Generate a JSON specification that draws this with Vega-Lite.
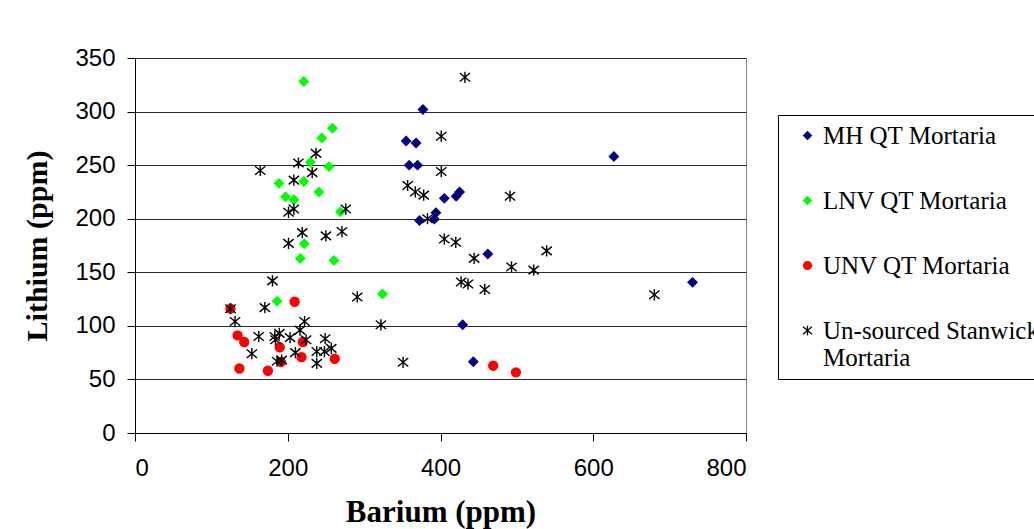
{
  "$schema": "https://vega.github.io/schema/vega-lite/v6.json",
  "autosize": "none",
  "width": 611,
  "height": 375,
  "padding": {"left": 135, "top": 58, "right": 288, "bottom": 96},
  "background": "white",
  "config": {
    "view": {"stroke": "#808080", "strokeWidth": 1},
    "font": "Liberation Sans"
  },
  "data": {
    "values": [
      {"series": "MH QT Mortaria", "ba": 377, "li": 302},
      {"series": "MH QT Mortaria", "ba": 355, "li": 272.5},
      {"series": "MH QT Mortaria", "ba": 368, "li": 270.6},
      {"series": "MH QT Mortaria", "ba": 359, "li": 250},
      {"series": "MH QT Mortaria", "ba": 370, "li": 250},
      {"series": "MH QT Mortaria", "ba": 405, "li": 219},
      {"series": "MH QT Mortaria", "ba": 420.5, "li": 221},
      {"series": "MH QT Mortaria", "ba": 425, "li": 225},
      {"series": "MH QT Mortaria", "ba": 394, "li": 205.6},
      {"series": "MH QT Mortaria", "ba": 392, "li": 199.6},
      {"series": "MH QT Mortaria", "ba": 372.5, "li": 198.4},
      {"series": "MH QT Mortaria", "ba": 462, "li": 167},
      {"series": "MH QT Mortaria", "ba": 627, "li": 258},
      {"series": "MH QT Mortaria", "ba": 730, "li": 140.6},
      {"series": "MH QT Mortaria", "ba": 429, "li": 101},
      {"series": "MH QT Mortaria", "ba": 443, "li": 66.5},
      {"series": "LNV QT Mortaria", "ba": 221, "li": 328},
      {"series": "LNV QT Mortaria", "ba": 258.6, "li": 284.5},
      {"series": "LNV QT Mortaria", "ba": 244.7, "li": 275.3},
      {"series": "LNV QT Mortaria", "ba": 229.6, "li": 252.6},
      {"series": "LNV QT Mortaria", "ba": 254, "li": 248.6},
      {"series": "LNV QT Mortaria", "ba": 188.5, "li": 233},
      {"series": "LNV QT Mortaria", "ba": 221, "li": 234.8},
      {"series": "LNV QT Mortaria", "ba": 240.8, "li": 225},
      {"series": "LNV QT Mortaria", "ba": 197, "li": 220.4},
      {"series": "LNV QT Mortaria", "ba": 208, "li": 217.7},
      {"series": "LNV QT Mortaria", "ba": 269, "li": 206.5},
      {"series": "LNV QT Mortaria", "ba": 221.6, "li": 176.7},
      {"series": "LNV QT Mortaria", "ba": 216.4, "li": 162.8},
      {"series": "LNV QT Mortaria", "ba": 260.5, "li": 161},
      {"series": "LNV QT Mortaria", "ba": 186, "li": 123},
      {"series": "LNV QT Mortaria", "ba": 324, "li": 129.7},
      {"series": "UNV QT Mortaria", "ba": 125, "li": 116},
      {"series": "UNV QT Mortaria", "ba": 209, "li": 122.5},
      {"series": "UNV QT Mortaria", "ba": 134.3, "li": 91.1},
      {"series": "UNV QT Mortaria", "ba": 143, "li": 84.9},
      {"series": "UNV QT Mortaria", "ba": 219.6, "li": 84.9},
      {"series": "UNV QT Mortaria", "ba": 189.5, "li": 80},
      {"series": "UNV QT Mortaria", "ba": 218, "li": 70.8},
      {"series": "UNV QT Mortaria", "ba": 191, "li": 66.3},
      {"series": "UNV QT Mortaria", "ba": 261.5, "li": 69.3},
      {"series": "UNV QT Mortaria", "ba": 136.7, "li": 60.2},
      {"series": "UNV QT Mortaria", "ba": 174, "li": 58.1},
      {"series": "UNV QT Mortaria", "ba": 469, "li": 62.8},
      {"series": "UNV QT Mortaria", "ba": 498.7, "li": 56.6},
      {"series": "Un-sourced Stanwick Mortaria", "ba": 432, "li": 332},
      {"series": "Un-sourced Stanwick Mortaria", "ba": 401, "li": 277},
      {"series": "Un-sourced Stanwick Mortaria", "ba": 401, "li": 244},
      {"series": "Un-sourced Stanwick Mortaria", "ba": 357, "li": 231},
      {"series": "Un-sourced Stanwick Mortaria", "ba": 367, "li": 225},
      {"series": "Un-sourced Stanwick Mortaria", "ba": 378, "li": 222},
      {"series": "Un-sourced Stanwick Mortaria", "ba": 383, "li": 200},
      {"series": "Un-sourced Stanwick Mortaria", "ba": 491, "li": 221},
      {"series": "Un-sourced Stanwick Mortaria", "ba": 405, "li": 181},
      {"series": "Un-sourced Stanwick Mortaria", "ba": 420, "li": 178},
      {"series": "Un-sourced Stanwick Mortaria", "ba": 444, "li": 163},
      {"series": "Un-sourced Stanwick Mortaria", "ba": 539, "li": 170},
      {"series": "Un-sourced Stanwick Mortaria", "ba": 493, "li": 155},
      {"series": "Un-sourced Stanwick Mortaria", "ba": 522, "li": 152},
      {"series": "Un-sourced Stanwick Mortaria", "ba": 427, "li": 141},
      {"series": "Un-sourced Stanwick Mortaria", "ba": 436, "li": 139},
      {"series": "Un-sourced Stanwick Mortaria", "ba": 458, "li": 134},
      {"series": "Un-sourced Stanwick Mortaria", "ba": 291, "li": 127},
      {"series": "Un-sourced Stanwick Mortaria", "ba": 322, "li": 101},
      {"series": "Un-sourced Stanwick Mortaria", "ba": 351, "li": 66},
      {"series": "Un-sourced Stanwick Mortaria", "ba": 680, "li": 129},
      {"series": "Un-sourced Stanwick Mortaria", "ba": 276, "li": 209},
      {"series": "Un-sourced Stanwick Mortaria", "ba": 271, "li": 188},
      {"series": "Un-sourced Stanwick Mortaria", "ba": 164, "li": 245},
      {"series": "Un-sourced Stanwick Mortaria", "ba": 214, "li": 252},
      {"series": "Un-sourced Stanwick Mortaria", "ba": 237, "li": 261},
      {"series": "Un-sourced Stanwick Mortaria", "ba": 232, "li": 243},
      {"series": "Un-sourced Stanwick Mortaria", "ba": 208, "li": 236},
      {"series": "Un-sourced Stanwick Mortaria", "ba": 208, "li": 209},
      {"series": "Un-sourced Stanwick Mortaria", "ba": 201, "li": 206},
      {"series": "Un-sourced Stanwick Mortaria", "ba": 219, "li": 187},
      {"series": "Un-sourced Stanwick Mortaria", "ba": 250, "li": 184},
      {"series": "Un-sourced Stanwick Mortaria", "ba": 201, "li": 177},
      {"series": "Un-sourced Stanwick Mortaria", "ba": 180, "li": 142},
      {"series": "Un-sourced Stanwick Mortaria", "ba": 170, "li": 117},
      {"series": "Un-sourced Stanwick Mortaria", "ba": 125, "li": 116},
      {"series": "Un-sourced Stanwick Mortaria", "ba": 131, "li": 104},
      {"series": "Un-sourced Stanwick Mortaria", "ba": 153, "li": 74},
      {"series": "Un-sourced Stanwick Mortaria", "ba": 162, "li": 90},
      {"series": "Un-sourced Stanwick Mortaria", "ba": 183, "li": 90},
      {"series": "Un-sourced Stanwick Mortaria", "ba": 189, "li": 93},
      {"series": "Un-sourced Stanwick Mortaria", "ba": 184, "li": 87},
      {"series": "Un-sourced Stanwick Mortaria", "ba": 186, "li": 67},
      {"series": "Un-sourced Stanwick Mortaria", "ba": 192, "li": 68},
      {"series": "Un-sourced Stanwick Mortaria", "ba": 203, "li": 89},
      {"series": "Un-sourced Stanwick Mortaria", "ba": 216, "li": 96},
      {"series": "Un-sourced Stanwick Mortaria", "ba": 222, "li": 104},
      {"series": "Un-sourced Stanwick Mortaria", "ba": 224, "li": 87},
      {"series": "Un-sourced Stanwick Mortaria", "ba": 210, "li": 75},
      {"series": "Un-sourced Stanwick Mortaria", "ba": 238, "li": 76},
      {"series": "Un-sourced Stanwick Mortaria", "ba": 238, "li": 65},
      {"series": "Un-sourced Stanwick Mortaria", "ba": 249, "li": 88},
      {"series": "Un-sourced Stanwick Mortaria", "ba": 248, "li": 76},
      {"series": "Un-sourced Stanwick Mortaria", "ba": 257, "li": 79}
    ]
  },
  "mark": {"type": "point", "filled": true, "opacity": 1, "strokeWidth": 1.4},
  "encoding": {
    "x": {
      "field": "ba", "type": "quantitative",
      "scale": {"domain": [0, 800], "nice": false, "zero": true},
      "axis": {
        "values": [0, 200, 400, 600, 800],
        "grid": false,
        "domainColor": "#000000", "tickColor": "#000000",
        "tickSize": 8, "labelPadding": 15,
        "labelFont": "Liberation Sans", "labelFontSize": 24, "labelColor": "#000000",
        "title": "Barium (ppm)",
        "titleFont": "Liberation Serif", "titleFontSize": 31, "titleFontWeight": "bold",
        "titleColor": "#000000", "titlePadding": 17
      }
    },
    "y": {
      "field": "li", "type": "quantitative",
      "scale": {"domain": [0, 350], "nice": false},
      "axis": {
        "values": [0, 50, 100, 150, 200, 250, 300, 350],
        "grid": true, "gridColor": "#2a2a2a", "gridWidth": 1, "gridOpacity": 1,
        "domainColor": "#000000", "tickColor": "#000000",
        "tickSize": 8, "labelPadding": 12,
        "labelFont": "Liberation Sans", "labelFontSize": 24, "labelColor": "#000000",
        "title": "Lithium (ppm)",
        "titleFont": "Liberation Serif", "titleFontSize": 30, "titleFontWeight": "bold",
        "titleColor": "#000000", "titlePadding": 22
      }
    },
    "color": {
      "field": "series", "type": "nominal",
      "scale": {
        "domain": ["MH QT Mortaria", "LNV QT Mortaria", "UNV QT Mortaria", "Un-sourced Stanwick Mortaria"],
        "range": ["#000080", "#00FF00", "#FF0000", "#000000"]
      },
      "legend": {
        "title": null,
        "orient": "none", "legendX": 643, "legendY": 57,
        "strokeColor": "#000000", "fillColor": "#ffffff",
        "padding": 8, "symbolOffset": 9,
        "labelFont": "Liberation Serif", "labelFontSize": 25, "labelColor": "#000000",
        "labelLimit": 400, "labelOffset": 3, "rowPadding": 39,
        "symbolSize": 60, "symbolStrokeWidth": 1.3,
        "labelExpr": "datum.label == 'Un-sourced Stanwick Mortaria' ? ['Un-sourced Stanwick', 'Mortaria'] : datum.label"
      }
    },
    "stroke": {
      "field": "series", "type": "nominal",
      "scale": {
        "domain": ["MH QT Mortaria", "LNV QT Mortaria", "UNV QT Mortaria", "Un-sourced Stanwick Mortaria"],
        "range": ["#000080", "#00FF00", "#FF0000", "#000000"]
      },
      "legend": null
    },
    "shape": {
      "field": "series", "type": "nominal",
      "scale": {
        "domain": ["MH QT Mortaria", "LNV QT Mortaria", "UNV QT Mortaria", "Un-sourced Stanwick Mortaria"],
        "range": ["diamond", "diamond", "circle", "M-1.15,-0.95L1.15,0.95M-1.15,0.95L1.15,-0.95M0,-1.25L0,1.25"]
      },
      "legend": null
    },
    "size": {"value": 80}
  }
}
